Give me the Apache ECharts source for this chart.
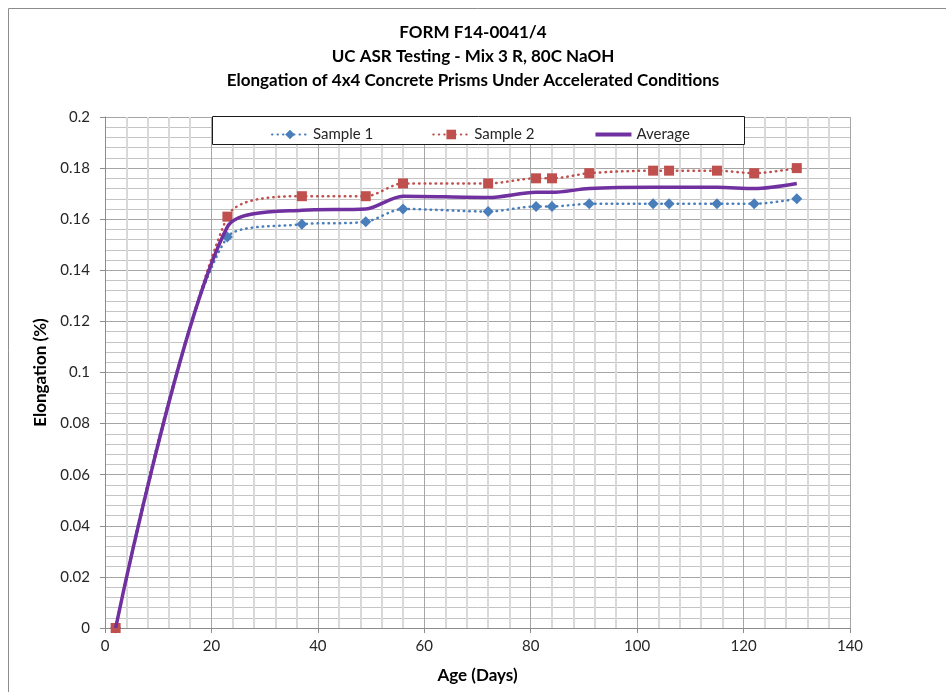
<!DOCTYPE html>
<html>
<head>
<meta charset="utf-8">
<script src="https://cdn.jsdelivr.net/npm/echarts@6/dist/echarts.min.js"></script>
<style>
html,body{margin:0;padding:0;background:#fff;}
#chart{width:946px;height:692px;}
</style>
</head>
<body>
<div id="chart"></div>
<script>
var ageDays = [2, 23, 37, 49, 56, 72, 81, 84, 91, 103, 106, 115, 122, 130];
var sample1 = [0, 0.153, 0.158, 0.159, 0.164, 0.163, 0.165, 0.165, 0.166, 0.166, 0.166, 0.166, 0.166, 0.168];
var sample2 = [0, 0.161, 0.169, 0.169, 0.174, 0.174, 0.176, 0.176, 0.178, 0.179, 0.179, 0.179, 0.178, 0.180];
var average = [0, 0.157, 0.1635, 0.164, 0.169, 0.1685, 0.1705, 0.1705, 0.172, 0.1725, 0.1725, 0.1725, 0.172, 0.174];
var seriesNames = ['Sample 1', 'Sample 2', 'Average'];
var titleLines = ['FORM F14-0041/4', 'UC ASR Testing - Mix 3 R, 80C NaOH', 'Elongation of 4x4 Concrete Prisms Under Accelerated Conditions'];

function pairs(xs, ys) {
  return xs.map(function (x, i) { return [x, ys[i]]; });
}

var FONT = 'Lato, "Open Sans", sans-serif';
var chart = echarts.init(document.getElementById('chart'), null, {renderer: 'canvas'});
chart.setOption({
  backgroundColor: '#fff',
  animation: false,
  title: {
    text: titleLines.join('\n'),
    left: 'center',
    top: 16,
    textStyle: {fontFamily: FONT, fontSize: 17, fontWeight: 'bold', color: '#000', lineHeight: 24}
  },
  graphic: [
    {type: 'rect', shape: {x: 8.5, y: 8.5, width: 960, height: 720}, style: {fill: 'none', stroke: '#8c8c8c', lineWidth: 1}, z: 100, silent: true},
    {type: 'rect', shape: {x: 212.5, y: 116.5, width: 532, height: 28}, style: {fill: '#fff', stroke: '#1a1a1a', lineWidth: 1}, z: 3, silent: true}
  ],
  legend: {
    data: [
      {name: seriesNames[0]},
      {name: seriesNames[1]},
      {name: seriesNames[2], itemStyle: {opacity: 0}, lineStyle: {width: 4}}
    ],
    left: 266,
    top: 122,
    itemGap: 59,
    itemWidth: 36,
    itemHeight: 12,
    z: 10,
    textStyle: {fontFamily: FONT, fontSize: 15, color: '#262626'}
  },
  grid: {left: 105, right: 96, top: 117, bottom: 64, containLabel: false},
  xAxis: {
    type: 'value',
    min: 0, max: 140, interval: 20,
    name: 'Age (Days)',
    nameLocation: 'middle',
    nameGap: 39,
    nameTextStyle: {fontFamily: FONT, fontSize: 17, fontWeight: 'bold', color: '#000'},
    axisLine: {show: true, onZero: false, lineStyle: {color: '#8c8c8c', width: 1}},
    axisTick: {show: true, length: 5, inside: false, lineStyle: {color: '#8c8c8c'}},
    axisLabel: {fontFamily: FONT, fontSize: 15, color: '#262626', margin: 11},
    splitLine: {show: true, lineStyle: {color: '#a6a6a6', width: 1}},
    minorTick: {show: false, splitNumber: 5},
    minorSplitLine: {show: true, lineStyle: {color: '#d9d9d9', width: 2}}
  },
  yAxis: {
    type: 'value',
    min: 0, max: 0.2, interval: 0.02,
    name: 'Elongation (%)',
    nameLocation: 'middle',
    nameGap: 51,
    nameTextStyle: {fontFamily: FONT, fontSize: 17, fontWeight: 'bold', color: '#000'},
    axisLine: {show: true, lineStyle: {color: '#8c8c8c', width: 1}},
    axisTick: {show: true, length: 5, inside: false, lineStyle: {color: '#8c8c8c'}},
    axisLabel: {fontFamily: FONT, fontSize: 15, color: '#262626', margin: 15},
    splitLine: {show: true, lineStyle: {color: '#a6a6a6', width: 1}},
    minorTick: {show: false, splitNumber: 5},
    minorSplitLine: {show: true, lineStyle: {color: '#c4c4c4', width: 1}}
  },
  series: [
    {
      name: seriesNames[0], type: 'line', data: pairs(ageDays, sample1),
      smooth: 0.3, symbol: 'diamond', symbolSize: 11,
      itemStyle: {color: '#4a7ebb'},
      lineStyle: {color: '#4a7ebb', width: 2.5, type: [0.5, 5], cap: 'round'},
      z: 3
    },
    {
      name: seriesNames[1], type: 'line', data: pairs(ageDays, sample2),
      smooth: 0.3, symbol: 'rect', symbolSize: 10,
      itemStyle: {color: '#c0504d'},
      lineStyle: {color: '#c0504d', width: 2.5, type: [0.5, 5], cap: 'round'},
      z: 3
    },
    {
      name: seriesNames[2], type: 'line', data: pairs(ageDays, average),
      smooth: 0.3, symbol: 'none', showSymbol: false,
      itemStyle: {color: '#7030a0'},
      lineStyle: {color: '#7030a0', width: 3.5},
      z: 4
    }
  ]
});
</script>
</body>
</html>
